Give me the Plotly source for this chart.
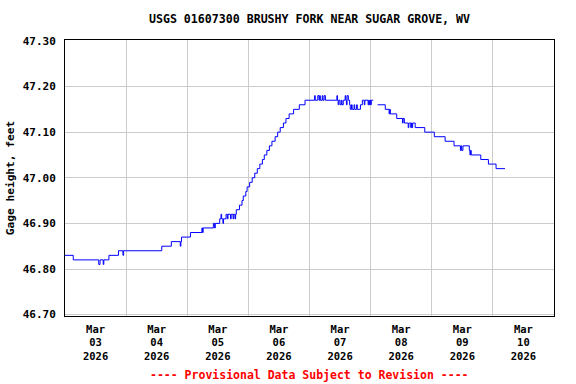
import pandas as pd
import plotly.graph_objects as go

# Data: hours since 2026-03-03 00:00 (step change points) and gage height (ft)
hours = [0, 3.25, 13.25, 13.75, 15.0, 15.25, 17.25, 21.0, 22.75, 23.0,
         38.0, 41.75, 45.25, 45.5, 45.75, 49.25, 53.75, 54.0, 54.25, 58.25,
         58.75, 59.0, 60.75, 61.25, 61.5, 62.0, 62.25, 63.25, 63.75, 64.0,
         65.0, 65.25, 66.0, 66.25, 66.75, 67.0, 67.25, 68.5, 69.5, 70.0,
         71.0, 71.5, 72.5, 73.5, 74.5, 75.5, 76.5, 77.5, 78.25, 79.25,
         80.25, 81.25, 82.5, 83.5, 84.5, 85.75, 86.75, 88.0, 89.75, 92.0,
         94.25, 98.0, 98.25, 99.25, 99.75, 100.0, 100.25, 101.0, 101.25, 101.75,
         102.25, 106.75, 107.0, 107.25, 107.5, 108.0, 108.5, 108.75, 109.25, 110.0,
         110.25, 110.5, 110.75, 111.25, 111.75, 112.0, 112.5, 112.75, 113.5, 113.75,
         114.5, 114.75, 116.0, 116.75, 117.5, 117.75, 119.0, 119.25, 119.5, 119.75,
         120.0, 120.25, 121.0, 121.1, 122.75, 125.75, 127.25, 127.5, 127.75, 130.25,
         132.5, 132.75, 133.25, 134.75, 135.0, 135.75, 136.0, 136.25, 136.5, 137.5,
         141.25, 145.0, 149.25, 152.75, 155.25, 155.5, 155.75, 156.25, 158.75, 159.0,
         159.25, 159.5, 163.25, 166.25, 169.25, 172.75]
gage_ft = [46.83, 46.82, 46.81, 46.82, 46.81, 46.82, 46.83, 46.84, 46.83, 46.84,
           46.85, 46.86, 46.85, 46.86, 46.87, 46.88, 46.89, 46.88, 46.89, 46.90,
           46.89, 46.90, 46.91, 46.92, 46.91, 46.90, 46.91, 46.92, 46.91, 46.92,
           46.91, 46.92, 46.91, 46.92, 46.91, 46.92, 46.93, 46.94, 46.95, 46.96,
           46.97, 46.98, 46.99, 47.00, 47.01, 47.02, 47.03, 47.04, 47.05, 47.06,
           47.07, 47.08, 47.09, 47.10, 47.11, 47.12, 47.13, 47.14, 47.15, 47.16,
           47.17, 47.18, 47.17, 47.18, 47.17, 47.18, 47.17, 47.18, 47.17, 47.18,
           47.17, 47.18, 47.17, 47.16, 47.17, 47.16, 47.17, 47.16, 47.17, 47.18,
           47.17, 47.16, 47.18, 47.17, 47.16, 47.15, 47.16, 47.15, 47.16, 47.15,
           47.16, 47.15, 47.16, 47.17, 47.16, 47.17, 47.16, 47.17, 47.16, 47.17,
           47.16, 47.17, 47.17, None, 47.16, 47.15, 47.14, 47.15, 47.14, 47.13,
           47.12, 47.13, 47.12, 47.11, 47.12, 47.11, 47.12, 47.11, 47.12, 47.11,
           47.10, 47.09, 47.08, 47.07, 47.06, 47.07, 47.06, 47.07, 47.06, 47.05,
           47.06, 47.05, 47.04, 47.03, 47.02, 47.02]

title_text = "USGS 01607300 BRUSHY FORK NEAR SUGAR GROVE, WV"
y_title = "Gage height, feet"
footer_text = "---- Provisional Data Subject to Revision ----"
start = "2026-03-03"
end = "2026-03-11"

times = pd.Timestamp(start) + pd.to_timedelta(hours, unit="h")

FONT = "DejaVu Sans Mono"

fig = go.Figure()
fig.add_trace(go.Scatter(
    x=times, y=gage_ft, mode="lines", line=dict(color="#0000FF", width=1, shape="hv"),
    connectgaps=False, showlegend=False, hoverinfo="skip"))

fig.update_layout(
    width=576, height=384,
    margin=dict(l=65, r=22, t=40, b=68, autoexpand=False),
    paper_bgcolor="white", plot_bgcolor="white",
    font=dict(family=FONT, size=11, color="black", weight="bold"),
    title=dict(text=title_text, x=0.5, xref="paper", xanchor="center",
               y=1 - 19 / 384, yanchor="middle",
               font=dict(family=FONT, size=11.6, color="black", weight="bold")),
    xaxis=dict(type="date", range=[start, end], dtick=86400000, tick0=start,
               tickformat="%b<br>%d<br>%Y", ticklabelmode="period",
               showgrid=True, gridcolor="#CCCCCC", gridwidth=1,
               showline=True, linecolor="black", linewidth=1, mirror=True,
               ticks="", zeroline=False, automargin=False, ticklabelstandoff=3,
               tickfont=dict(family=FONT, size=10.5, color="black", weight="bold")),
    yaxis=dict(range=[46.697, 47.302], dtick=0.1, tick0=46.7, tickformat=".2f",
               showgrid=True, gridcolor="#CCCCCC", gridwidth=1,
               showline=True, linecolor="black", linewidth=1, mirror=True,
               ticks="", zeroline=False, ticklabelstandoff=6, automargin=False,
               tickfont=dict(family=FONT, size=11, color="black", weight="bold"),
               title=dict(text=y_title, standoff=5,
                          font=dict(family=FONT, size=11.2, color="black", weight="bold"))),
)

fig.add_annotation(text=footer_text, xref="paper", yref="paper", x=0.5, y=(316 - 375) / 276,
                   xanchor="center", yanchor="middle", showarrow=False,
                   font=dict(family=FONT, size=11.5, color="#FF0000", weight="bold"))

fig.write_html("out.html", config={"displayModeBar": False, "staticPlot": True},
               post_script="document.body.style.margin='0';document.body.style.overflow='hidden';")
